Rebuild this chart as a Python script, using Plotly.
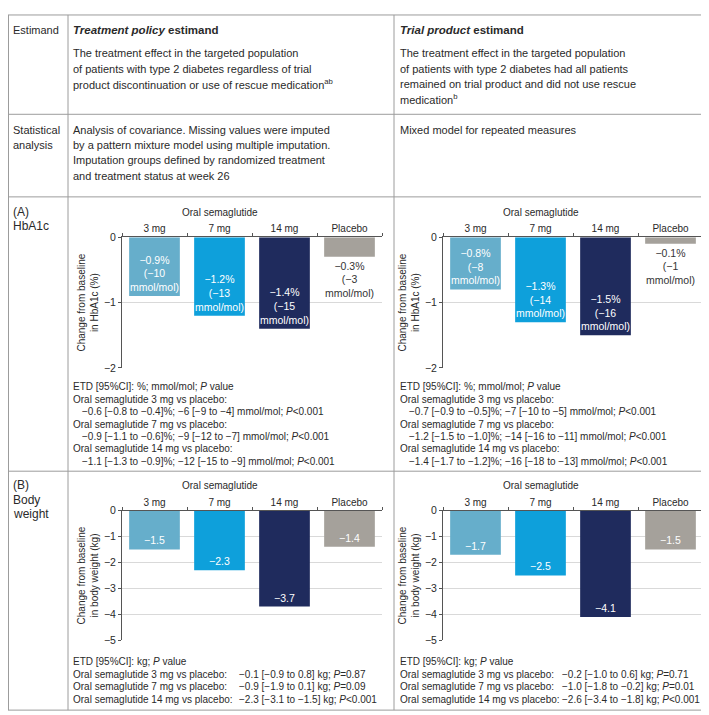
import plotly.graph_objects as go

W, H = 709, 715
FONT = "Liberation Sans, Arial, sans-serif"
MINUS = "\u2212"

# ---------------- data ----------------
categories = ["3 mg", "7 mg", "14 mg", "Placebo"]
hba1c_tp = [-0.9, -1.2, -1.4, -0.3]
hba1c_tp_mmol = [-10, -13, -15, -3]
hba1c_trp = [-0.8, -1.3, -1.5, -0.1]
hba1c_trp_mmol = [-8, -14, -16, -1]
bw_tp = [-1.5, -2.3, -3.7, -1.4]
bw_trp = [-1.7, -2.5, -4.1, -1.5]
hba1c_ticks = [0, -1, -2]
bw_ticks = [0, -1, -2, -3, -4, -5]

etd_hba1c_tp = [
    ("Oral semaglutide 3 mg vs placebo:", "−0.6 [−0.8 to −0.4]%; −6 [−9 to −4] mmol/mol; <i>P</i><0.001"),
    ("Oral semaglutide 7 mg vs placebo:", "−0.9 [−1.1 to −0.6]%; −9 [−12 to −7] mmol/mol; <i>P</i><0.001"),
    ("Oral semaglutide 14 mg vs placebo:", "−1.1 [−1.3 to −0.9]%; −12 [−15 to −9] mmol/mol; <i>P</i><0.001"),
]
etd_hba1c_trp = [
    ("Oral semaglutide 3 mg vs placebo:", "−0.7 [−0.9 to −0.5]%; −7 [−10 to −5] mmol/mol; <i>P</i><0.001"),
    ("Oral semaglutide 7 mg vs placebo:", "−1.2 [−1.5 to −1.0]%; −14 [−16 to −11] mmol/mol; <i>P</i><0.001"),
    ("Oral semaglutide 14 mg vs placebo:", "−1.4 [−1.7 to −1.2]%; −16 [−18 to −13] mmol/mol; <i>P</i><0.001"),
]
etd_bw_tp = [
    ("Oral semaglutide 3 mg vs placebo:", "−0.1 [−0.9 to 0.8] kg; <i>P</i>=0.87"),
    ("Oral semaglutide 7 mg vs placebo:", "−0.9 [−1.9 to 0.1] kg; <i>P</i>=0.09"),
    ("Oral semaglutide 14 mg vs placebo:", "−2.3 [−3.1 to −1.5] kg; <i>P</i><0.001"),
]
etd_bw_trp = [
    ("Oral semaglutide 3 mg vs placebo:", "−0.2 [−1.0 to 0.6] kg; <i>P</i>=0.71"),
    ("Oral semaglutide 7 mg vs placebo:", "−1.0 [−1.8 to −0.2] kg; <i>P</i>=0.01"),
    ("Oral semaglutide 14 mg vs placebo:", "−2.6 [−3.4 to −1.8] kg; <i>P</i><0.001"),
]

bar_colors = ["#66aecb", "#0ea0db", "#1f2b5d", "#a5a19b"]
LINE = "#9c9c9c"
AX = "#555555"
TXT = "#2a2a2a"


def px(x):
    return x / W


def py(y):
    return 1 - y / H


def fmt(v, d=1):
    s = f"{abs(v):.{d}f}"
    return (MINUS + s) if v < 0 else s


fig = go.Figure()
annotations = []
shapes = []


def text(x, y, s, size=10, xanchor="left", color=TXT, angle=0):
    annotations.append(dict(x=px(x), y=py(y), xref="paper", yref="paper", text=s,
                            showarrow=False, xanchor=xanchor, yanchor="middle",
                            align="left" if xanchor == "left" else "center",
                            textangle=angle, borderpad=0,
                            font=dict(family=FONT, size=size, color=color)))


def hline(y, x0=0, x1=W):
    shapes.append(dict(type="line", xref="paper", yref="paper", x0=px(x0), x1=px(x1),
                       y0=py(y), y1=py(y), line=dict(color=LINE, width=1)))


def vline(x, y0=0, y1=H):
    shapes.append(dict(type="line", xref="paper", yref="paper", x0=px(x), x1=px(x),
                       y0=py(y0), y1=py(y1), line=dict(color=LINE, width=1)))


# ---------------- table structure ----------------
COL1 = 60
COL2 = 386
ROW_Y = [1, 102, 186, 465, 708]
for y in ROW_Y:
    hline(y)
vline(COL1, 1, 708)
vline(COL2, 1, 708)
vline(0.5, 1, 708)
vline(708, 1, 708)

LX = 4
L1 = COL1 + 4
L2 = COL2 + 5
TS = 11     # body text size
LS = 15.5   # body line spacing

# header row
text(LX, 16, "Estimand", TS)
text(L1, 16, "<b><i>Treatment policy</i> estimand</b>", 11.5)
text(L2, 16, "<b><i>Trial product</i> estimand</b>", 11.5)
hdr_tp = ["The treatment effect in the targeted population",
          "of patients with type 2 diabetes regardless of trial",
          "product discontinuation or use of rescue medication<sup>ab</sup>"]
hdr_trp = ["The treatment effect in the targeted population",
           "of patients with type 2 diabetes had all patients",
           "remained on trial product and did not use rescue",
           "medication<sup>b</sup>"]
for i, s in enumerate(hdr_tp):
    text(L1, 40 + LS * i, s, TS)
for i, s in enumerate(hdr_trp):
    text(L2, 40 + LS * i, s, TS)

# statistical analysis row
text(LX, 118, "Statistical", TS)
text(LX, 118 + LS, "analysis", TS)
stat_tp = ["Analysis of covariance. Missing values were imputed",
           "by a pattern mixture model using multiple imputation.",
           "Imputation groups defined by randomized treatment",
           "and treatment status at week 26"]
for i, s in enumerate(stat_tp):
    text(L1, 118 + LS * i, s, TS)
text(L2, 118, "Mixed model for repeated measures", TS)

# row labels
text(LX, 201, "(A)", 12)
text(LX, 216, "HbA1c", 12)
text(LX, 479, "(B)", 12)
text(LX, 494, "Body", 12)
text(LX, 509, "weight", 12)

# ---------------- charts ----------------
panels = [
    dict(i=1, x0=114, y0=227, y1=360, vals=hba1c_tp, mmol=hba1c_tp_mmol, ticks=hba1c_ticks,
         title="Change from baseline<br>in HbA1c (%)", tx=80),
    dict(i=2, x0=435, y0=227, y1=360, vals=hba1c_trp, mmol=hba1c_trp_mmol, ticks=hba1c_ticks,
         title="Change from baseline<br>in HbA1c (%)", tx=401),
    dict(i=3, x0=114, y0=505, y1=637, vals=bw_tp, mmol=None, ticks=bw_ticks,
         title="Change from baseline<br>in body weight (kg)", tx=80),
    dict(i=4, x0=435, y0=505, y1=637, vals=bw_trp, mmol=None, ticks=bw_ticks,
         title="Change from baseline<br>in body weight (kg)", tx=401),
]
PW = 260

layout_axes = {}
for p in panels:
    i = p["i"]
    xa = "x" if i == 1 else f"x{i}"
    ya = "y" if i == 1 else f"y{i}"
    vals = p["vals"]
    if p["mmol"] is not None:
        labels = [f"{fmt(v)}%<br>({MINUS}{abs(m)}<br>mmol/mol)" for v, m in zip(vals, p["mmol"])]
        positions = ["inside" if abs(v) >= 0.5 else "outside" for v in vals]
    else:
        labels = [fmt(v) for v in vals]
        positions = ["inside"] * len(vals)
    tcolors = ["white" if pos == "inside" else "#333333" for pos in positions]
    fig.add_trace(go.Bar(
        x=categories, y=vals, xaxis=xa, yaxis=ya, width=0.78,
        marker=dict(color=bar_colors, line=dict(width=0)),
        text=labels, textposition=positions, insidetextanchor="end",
        textangle=0, constraintext="none", cliponaxis=False,
        textfont=dict(family=FONT, size=10.5, color=tcolors),
        hoverinfo="skip", showlegend=False))
    ticks = p["ticks"]
    layout_axes["xaxis" if i == 1 else f"xaxis{i}"] = dict(
        domain=[px(p["x0"]), px(p["x0"] + PW)], anchor=ya, side="top", type="category",
        range=[-0.5, 3.5], showline=True, linecolor=AX, linewidth=1,
        ticks="outside", tickson="boundaries", ticklen=3, tickcolor=AX,
        tickfont=dict(family=FONT, size=10, color=TXT), showgrid=False, fixedrange=True)
    layout_axes["yaxis" if i == 1 else f"yaxis{i}"] = dict(
        domain=[py(p["y1"]), py(p["y0"])], anchor=xa, range=[min(ticks), 0],
        tickvals=ticks, ticktext=[fmt(t, 0) if t != 0 else "0" for t in ticks],
        showline=True, linecolor=AX, linewidth=1, ticks="outside", ticklen=3, tickcolor=AX,
        showgrid=True, gridcolor="#d9d9d9", gridwidth=1, zeroline=False,
        tickfont=dict(family=FONT, size=10.5, color=TXT), fixedrange=True)
    cx = p["x0"] + PW * 1.5 / 4
    text(cx, p["y0"] - 25, "Oral semaglutide", 10, xanchor="center")
    text(p["tx"], (p["y0"] + p["y1"]) / 2, p["title"], 10, xanchor="center", angle=-90)


def etd_block(x, y, header, rows, tab=None, step=12.67, size=10):
    text(x, y, header, size)
    yy = y + step
    for lab, val in rows:
        if tab is None:
            text(x, yy, lab, size)
            yy += step
            text(x + 9, yy, val, size)
            yy += step
        else:
            text(x, yy, lab, size)
            text(x + tab, yy, val, size)
            yy += step


etd_block(L1, 379, "ETD [95%CI]: %; mmol/mol; <i>P</i> value", etd_hba1c_tp)
etd_block(L2, 379, "ETD [95%CI]: %; mmol/mol; <i>P</i> value", etd_hba1c_trp)
etd_block(L1, 659, "ETD [95%CI]: kg; <i>P</i> value", etd_bw_tp, tab=166)
etd_block(L2, 659, "ETD [95%CI]: kg; <i>P</i> value", etd_bw_trp, tab=162)

fig.update_layout(
    width=W, height=H, margin=dict(l=0, r=0, t=0, b=0),
    paper_bgcolor="white", plot_bgcolor="white",
    font=dict(family=FONT, size=10, color=TXT),
    annotations=annotations, shapes=shapes, bargap=0.2,
    **layout_axes)

fig.write_html("out.html")
